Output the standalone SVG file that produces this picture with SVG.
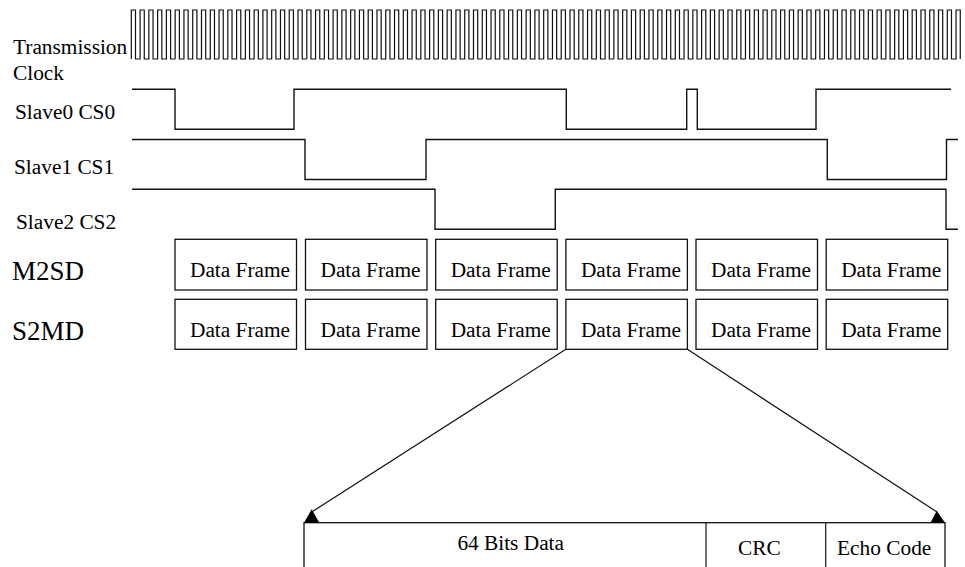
<svg xmlns="http://www.w3.org/2000/svg" width="965" height="567" viewBox="0 0 965 567">
<style>
.sig{fill:none;stroke:#111;stroke-width:1.4}
.clk{fill:none;stroke:#111;stroke-width:1.2}
.box{fill:#fff;stroke:#111;stroke-width:1.3}
.t{font-family:'Liberation Serif','Times New Roman',Times,serif;font-size:21.33px;fill:#000}
.big{font-family:'Liberation Serif','Times New Roman',Times,serif;font-size:27px;fill:#000}
.ln{fill:none;stroke:#111;stroke-width:1.2}
</style>
<defs>
<path id="p5" class="clk" d="M0,59V10h4.2V59h4.574V10h4.2V59h4.574V10h4.2V59h4.574V10h4.2V59h4.574V10h4.2V59h4.574"/>
<path id="p5end" class="clk" d="M0,59V10h4.2V59h4.574V10h4.2V59h4.574V10h4.2V59h4.574V10h4.2V59h4.574V10h4.2V59"/>
</defs>
<rect width="965" height="567" fill="#fff"/>
<g id="clock">
<text class="t" x="13" y="54">Transmission</text>
<text class="t" x="13" y="80">Clock</text>
<use href="#p5" x="131.3"/>
<use href="#p5" x="175.17"/>
<use href="#p5" x="219.04"/>
<use href="#p5" x="262.91"/>
<use href="#p5" x="306.78"/>
<use href="#p5" x="350.65"/>
<use href="#p5" x="394.52"/>
<use href="#p5" x="438.39"/>
<use href="#p5" x="482.26"/>
<use href="#p5" x="526.13"/>
<use href="#p5" x="570"/>
<use href="#p5" x="613.87"/>
<use href="#p5" x="657.74"/>
<use href="#p5" x="701.61"/>
<use href="#p5" x="745.48"/>
<use href="#p5" x="789.35"/>
<use href="#p5" x="833.22"/>
<use href="#p5" x="877.09"/>
<use href="#p5end" x="920.96"/>
</g>
<g id="cs0">
<text class="t" x="15" y="119">Slave0 CS0</text>
<path class="sig" d="M132,89.3H175V129.3H294V89.3H566.3V129.3H686.7V89.3H697.3V129.3H816V89.3H951"/>
</g>
<g id="cs1">
<text class="t" x="14" y="174">Slave1 CS1</text>
<path class="sig" d="M132,139.5H305V179.5H426V139.5H827.3V179.5H946.5V139.5H958"/>
</g>
<g id="cs2">
<text class="t" x="16" y="229">Slave2 CS2</text>
<path class="sig" d="M132,189.3H435V229.3H555.3V189.3H946V229.3H958"/>
</g>
<g id="m2sd">
<text class="big" x="12" y="280">M2SD</text>
<rect class="box" x="175" y="239.3" width="121.5" height="50.7"/><text class="t" x="190" y="277">Data Frame</text>
<rect class="box" x="305.5" y="239.3" width="121.5" height="50.7"/><text class="t" x="320.5" y="277">Data Frame</text>
<rect class="box" x="435.7" y="239.3" width="121.5" height="50.7"/><text class="t" x="450.7" y="277">Data Frame</text>
<rect class="box" x="565.9" y="239.3" width="121.5" height="50.7"/><text class="t" x="580.9" y="277">Data Frame</text>
<rect class="box" x="696" y="239.3" width="121.5" height="50.7"/><text class="t" x="711" y="277">Data Frame</text>
<rect class="box" x="826.2" y="239.3" width="121.5" height="50.7"/><text class="t" x="841.2" y="277">Data Frame</text>
</g>
<g id="s2md">
<text class="big" x="12" y="340">S2MD</text>
<rect class="box" x="175" y="299.3" width="121.5" height="50"/><text class="t" x="190" y="337">Data Frame</text>
<rect class="box" x="305.5" y="299.3" width="121.5" height="50"/><text class="t" x="320.5" y="337">Data Frame</text>
<rect class="box" x="435.7" y="299.3" width="121.5" height="50"/><text class="t" x="450.7" y="337">Data Frame</text>
<rect class="box" x="565.9" y="299.3" width="121.5" height="50"/><text class="t" x="580.9" y="337">Data Frame</text>
<rect class="box" x="696" y="299.3" width="121.5" height="50"/><text class="t" x="711" y="337">Data Frame</text>
<rect class="box" x="826.2" y="299.3" width="121.5" height="50"/><text class="t" x="841.2" y="337">Data Frame</text>
</g>
<g id="frame-detail">
<rect class="box" x="304" y="522.7" width="641" height="60"/>
<line class="ln" stroke-width="1.3" x1="706" y1="522.7" x2="706" y2="570"/>
<line class="ln" stroke-width="1.3" x1="825.7" y1="522.7" x2="825.7" y2="570"/>
<text class="t" x="510.7" y="550" text-anchor="middle">64 Bits Data</text>
<text class="t" x="759.4" y="555" text-anchor="middle">CRC</text>
<text class="t" x="884.2" y="555" text-anchor="middle">Echo Code</text>
</g>
<g id="connectors">
<line class="ln" x1="565.9" y1="349.3" x2="311.7" y2="512"/>
<line class="ln" x1="687.4" y1="349.3" x2="937" y2="512"/>
<polygon points="311.7,509.3 304,522.7 319.3,522.7" fill="#000"/>
<polygon points="936.7,510.7 930.5,522.7 945,522.7" fill="#000"/>
</g>
</svg>
